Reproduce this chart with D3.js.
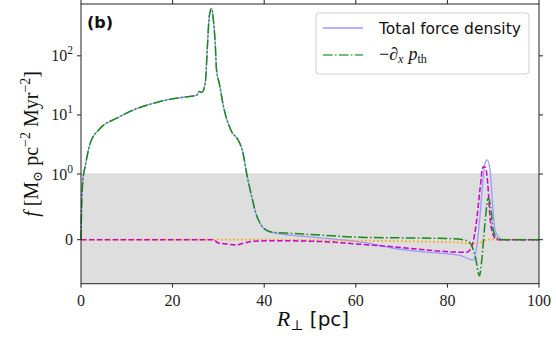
<!DOCTYPE html>
<html>
<head>
<meta charset="utf-8">
<script src="https://cdn.jsdelivr.net/npm/d3@7"></script>
<style>
  body { margin: 0; background: #fff; }
  svg { display: block; }
</style>
</head>
<body>
<svg id="chart" width="556" height="339"></svg>
<script>
// Force density profiles across the filament (panel b).

// Total force density (follows the pressure gradient until ~40 pc)
var rTotal = [0, 0.15, 0.5, 0.9, 2, 4.15, 7.8, 11.4, 15.1, 18.7, 22.3, 25.3, 25.8, 26.3, 26.8, 27.2, 27.6, 28.0, 28.5, 28.9, 29.3, 29.6, 30.2, 31.1, 32.9, 34.3, 35.3, 36.2, 36.8, 37.4, 38.1, 39.1, 40.5, 43.4, 49.3, 56.6, 63, 68.2, 75.5, 82.8, 85.0, 85.7, 86.4, 87.1, 87.7, 88.2, 88.7, 89.3, 89.8, 90.4, 91.5, 92.5, 100];
var fTotal = [0, 0.55, 0.96, 1.33, 3.3, 5.9, 8.8, 12.1, 15.2, 17.9, 19.9, 21.7, 25, 24, 27, 39, 144, 460, 635, 405, 163, 57, 34, 14, 5.2, 3.77, 2.4, 1.0, 0.8, 0.62, 0.42, 0.25, 0.14, 0.087, 0.046, 0, -0.055, -0.13, -0.19, -0.24, -0.3, -0.31, -0.107, 0.35, 0.86, 1.5, 1.73, 1.17, 0.6, 0.15, 0.02, 0, 0];

// Thermal pressure gradient, -d_x p_th
var rPressure = [0, 0.15, 0.5, 0.9, 2, 4.15, 7.8, 11.4, 15.1, 18.7, 22.3, 25.3, 25.8, 26.3, 26.8, 27.2, 27.6, 28.0, 28.5, 28.9, 29.3, 29.6, 30.2, 31.1, 32.9, 34.3, 35.3, 36.2, 36.8, 37.4, 38.1, 39.1, 40.2, 42, 45.6, 52.9, 60, 70, 80, 83.5, 85, 86.1, 87, 87.5, 88.2, 88.9, 89.5, 90, 90.9, 92, 100];
var fPressure = [0, 0.55, 0.96, 1.33, 3.3, 5.9, 8.8, 12.1, 15.2, 17.9, 19.9, 21.7, 25, 24, 27, 39, 144, 460, 635, 405, 163, 57, 34, 14, 5.2, 3.77, 2.4, 1.0, 0.8, 0.62, 0.42, 0.25, 0.158, 0.113, 0.098, 0.067, 0.04, 0.028, 0.018, 0.0, -0.055, -0.26, -0.55, -0.31, 0.25, 0.63, 0.48, 0.148, 0.02, 0, 0];

// Magenta dashed component
var rMagenta = [0, 28.8, 30, 31.8, 34, 35.4, 37.6, 42, 53, 61, 68, 75.5, 82.8, 84.3, 85.3, 86.4, 87.1, 87.8, 88.3, 88.8, 89.3, 90, 91, 100];
var fMagenta = [0, 0, -0.05, -0.065, -0.08, -0.055, -0.025, -0.015, -0.03, -0.07, -0.107, -0.157, -0.19, -0.19, -0.107, 0.3, 0.76, 1.33, 1.3, 0.86, 0.35, 0.07, 0, 0];

// Orange dotted component
var rOrange = [0, 42, 53, 63, 75, 83, 85.7, 87.1, 88.6, 89.5, 100];
var fOrange = [0, 0, -0.01, -0.015, -0.03, -0.045, -0.065, -0.05, 0, 0.005, 0];

var xTicks = [0, 20, 40, 60, 80, 100];
var yTicks = [0, 1, 10, 100];
var legendLabels = ["Total force density", "pressure"];

var svg = d3.select("#chart");
var margin = { left: 81, right: 17, top: 4, bottom: 55.3 };
var W = 556, H = 339;

// matplotlib-like symlog transform (linthresh = 1, linscale = 1)
var linScale = 1 / (1 - 1 / 10);
function symlog(v) {
  var a = Math.abs(v);
  if (a <= 1) return v * linScale;
  return Math.sign(v) * (linScale + Math.log10(a));
}

var x = d3.scaleLinear().domain([0, 100]).range([margin.left, W - margin.right]);
var yT = d3.scaleLinear().domain([symlog(-0.67), symlog(753)]).range([H - margin.bottom, margin.top]);
function y(v) { return yT(symlog(v)); }

// Grey band for the linear region of the symlog axis
svg.append("rect")
  .attr("x", x(0)).attr("y", y(1))
  .attr("width", x(100) - x(0)).attr("height", y(-0.67) - y(1))
  .attr("fill", "#dedede");
svg.append("line")
  .attr("x1", x(0)).attr("x2", x(100)).attr("y1", y(1)).attr("y2", y(1))
  .attr("stroke", "#d2d2d2").attr("stroke-width", 1);

var plot = svg.append("g");
var line = d3.line()
  .x(function(d) { return x(d[0]); })
  .y(function(d) { return y(d[1]); })
  .curve(d3.curveMonotoneX);

function pairs(rs, fs) { return rs.map(function(r, i) { return [r, fs[i]]; }); }

var series = [
  { data: pairs(rTotal, fTotal), color: "#9a9aff", dash: null, width: 1.3 },
  { data: pairs(rOrange, fOrange), color: "#ffa500", dash: "1.6,2.4", width: 1.8 },
  { data: pairs(rMagenta, fMagenta), color: "#cc00cc", dash: "5.5,2.4", width: 1.5 },
  { data: pairs(rPressure, fPressure), color: "#1a8a1a", dash: "9.6,2.4,1.5,2.4", width: 1.5 }
];

series.forEach(function(s) {
  plot.append("path")
    .datum(s.data)
    .attr("d", line)
    .attr("fill", "none")
    .attr("stroke", s.color)
    .attr("stroke-width", s.width)
    .attr("stroke-dasharray", s.dash);
});

// Frame
svg.append("rect")
  .attr("x", x(0)).attr("y", margin.top)
  .attr("width", x(100) - x(0)).attr("height", H - margin.bottom - margin.top)
  .attr("fill", "none").attr("stroke", "#222").attr("stroke-width", 1);

// Ticks (outward, on all four sides)
var tickLen = 4;
xTicks.forEach(function(t) {
  svg.append("line").attr("x1", x(t)).attr("x2", x(t))
    .attr("y1", H - margin.bottom).attr("y2", H - margin.bottom + tickLen)
    .attr("stroke", "#222");
  svg.append("line").attr("x1", x(t)).attr("x2", x(t))
    .attr("y1", margin.top).attr("y2", margin.top - tickLen)
    .attr("stroke", "#222");
  svg.append("text")
    .attr("x", x(t)).attr("y", H - margin.bottom + 22)
    .attr("text-anchor", "middle")
    .attr("font-family", "Liberation Serif, DejaVu Serif, serif")
    .attr("font-size", 16)
    .attr("fill", "#222")
    .text(t);
});

yTicks.forEach(function(t) {
  svg.append("line").attr("x1", x(0) - tickLen).attr("x2", x(0))
    .attr("y1", y(t)).attr("y2", y(t)).attr("stroke", "#222");
  svg.append("line").attr("x1", x(100)).attr("x2", x(100) + tickLen)
    .attr("y1", y(t)).attr("y2", y(t)).attr("stroke", "#222");
  var lab = svg.append("text")
    .attr("x", x(0) - 8).attr("y", y(t) + 5.5)
    .attr("text-anchor", "end")
    .attr("font-family", "Liberation Serif, DejaVu Serif, serif")
    .attr("font-size", 16)
    .attr("fill", "#222");
  if (t === 0) lab.text("0");
  else {
    lab.append("tspan").text("10");
    lab.append("tspan").attr("dy", -7).attr("font-size", 11.5).text(Math.round(Math.log10(t)));
  }
});

// Axis labels
var xl = svg.append("text")
  .attr("x", (x(0) + x(100)) / 2 + 3).attr("y", 326)
  .attr("text-anchor", "middle")
  .attr("fill", "#111");
xl.append("tspan").attr("font-family", "Liberation Serif, serif").attr("font-style", "italic")
  .attr("font-size", 22).text("R");
xl.append("tspan").attr("font-family", "DejaVu Serif, serif").attr("font-size", 14).attr("dy", 4).text("⊥");
xl.append("tspan").attr("font-family", "DejaVu Sans, sans-serif").attr("font-size", 20).attr("dy", -4).text(" [pc]");

var yl = svg.append("text")
  .attr("transform", "translate(38," + ((margin.top + H - margin.bottom) / 2) + ") rotate(-90)")
  .attr("text-anchor", "middle")
  .attr("font-family", "Liberation Serif, DejaVu Serif, serif")
  .attr("font-size", 20)
  .attr("fill", "#111");
yl.append("tspan").attr("font-style", "italic").text("f");
yl.append("tspan").text(" [M");
yl.append("tspan").attr("font-family", "DejaVu Serif, serif").attr("font-size", 13).attr("dy", 4).text("⊙");
yl.append("tspan").attr("dy", -4).text(" pc");
yl.append("tspan").attr("font-size", 14).attr("dy", -8).text("−2");
yl.append("tspan").attr("dy", 8).text(" Myr");
yl.append("tspan").attr("font-size", 14).attr("dy", -8).text("−2");
yl.append("tspan").attr("dy", 8).text("]");

// Panel tag
svg.append("text")
  .attr("x", 87).attr("y", 28)
  .attr("font-family", "DejaVu Sans, sans-serif")
  .attr("font-weight", "bold")
  .attr("font-size", 16)
  .attr("fill", "#111")
  .text("(b)");

// Legend
var lg = svg.append("g");
lg.append("rect")
  .attr("x", 316).attr("y", 13).attr("width", 213).attr("height", 61)
  .attr("rx", 3).attr("fill", "white").attr("fill-opacity", 0.8)
  .attr("stroke", "#d0d0d0").attr("stroke-width", 1);
lg.append("line").attr("x1", 323).attr("x2", 363).attr("y1", 28).attr("y2", 28)
  .attr("stroke", series[0].color).attr("stroke-width", series[0].width);
lg.append("line").attr("x1", 323).attr("x2", 363).attr("y1", 55).attr("y2", 55)
  .attr("stroke", "#4aa84a").attr("stroke-width", 1.5)
  .attr("stroke-dasharray", series[3].dash);
lg.append("text")
  .attr("x", 379).attr("y", 34)
  .attr("font-family", "DejaVu Sans, sans-serif")
  .attr("font-size", 15.5)
  .attr("fill", "#111")
  .text(legendLabels[0]);
var lt = lg.append("text")
  .attr("x", 379).attr("y", 60)
  .attr("font-family", "Liberation Serif, DejaVu Serif, serif")
  .attr("font-size", 18)
  .attr("fill", "#111");
lt.append("tspan").text("−");
lt.append("tspan").attr("font-style", "italic").text("∂");
lt.append("tspan").attr("font-style", "italic").attr("font-size", 12).attr("dy", 3).text("x");
lt.append("tspan").attr("font-style", "italic").attr("dy", -3).attr("dx", 5).text("p");
lt.append("tspan").attr("font-size", 12).attr("dy", 3).text("th");
</script>
</body>
</html>
